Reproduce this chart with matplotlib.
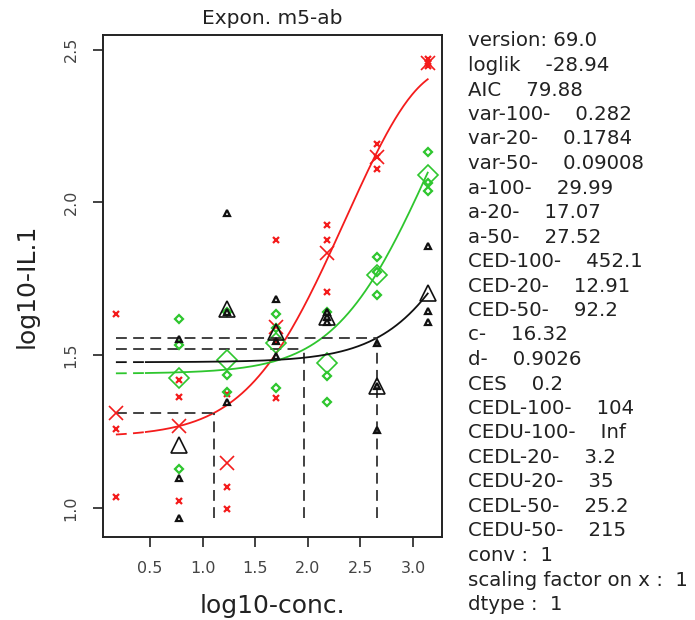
import numpy as np
import matplotlib
matplotlib.use('Agg')
import matplotlib.pyplot as plt

plt.rcParams['font.family'] = ['DejaVu Sans']

# dose groups (log10 conc.)
x_groups = [0.176, 0.778, 1.23, 1.70, 2.18, 2.66, 3.14]

# individual observations per group (log10 IL.1)
red_y = [[1.636, 1.259, 1.036], [1.42, 1.363, 1.024], [1.372, 1.070, 0.996],
         [1.876, 1.545, 1.360], [1.925, 1.877, 1.706], [2.19, 2.15, 2.108],
         [2.47, 2.455, 2.445]]
green_y = [None, [1.619, 1.532, 1.128], [1.64, 1.436, 1.381],
           [1.636, 1.59, 1.392], [1.64, 1.431, 1.348], [1.821, 1.773, 1.698],
           [2.165, 2.065, 2.037]]
black_y = [None, [1.553, 1.097, 0.966], [1.967, 1.64, 1.348],
           [1.684, 1.545, 1.496], [1.64, 1.625, 1.61], [1.54, 1.40, 1.256],
           [1.857, 1.644, 1.608]]

# fitted model parameters (Expon. m5)
a_vals = {'20': 17.07, '50': 27.52, '100': 29.99}
ced_vals = {'20': 12.91, '50': 92.2, '100': 452.1}
c_par = 16.32
d_par = 0.9026
ces = 0.2

info_lines = ['version: 69.0', 'loglik    -28.94', 'AIC    79.88',
              'var-100-    0.282', 'var-20-    0.1784', 'var-50-    0.09008',
              'a-100-    29.99', 'a-20-    17.07', 'a-50-    27.52',
              'CED-100-    452.1', 'CED-20-    12.91', 'CED-50-    92.2',
              'c-    16.32', 'd-    0.9026', 'CES    0.2',
              'CEDL-100-    104', 'CEDU-100-    Inf', 'CEDL-20-    3.2',
              'CEDU-20-    35', 'CEDL-50-    25.2', 'CEDU-50-    215',
              'conv :  1', 'scaling factor on x :  1', 'dtype :  1']

series = [('20', red_y, '#f41c1c', 'x'),
          ('50', green_y, '#2ec62e', 'D'),
          ('100', black_y, '#111111', '^')]


def model(xlog, a, ced):
    # exponential m5 on log scale, CED defined by CES
    p = 1.0 / d_par
    z_ced = -np.log((c_par - 1 - ces) / (c_par - 1))
    z = z_ced * (10 ** xlog / ced) ** p
    return np.log10(a) + np.log10(c_par - (c_par - 1) * np.exp(-z))


fig = plt.figure(figsize=(6.95, 6.2), dpi=100)
ax = fig.add_axes([0.148, 0.134, 0.488, 0.81])

ymin_data = min(v for s in (red_y, green_y, black_y) for g in s if g for v in g)
xmin = x_groups[0]
xmax = x_groups[-1]
dash = (0, (6, 3.5))

for key, ys, col, mk in series:
    a = a_vals[key]
    ced = ced_vals[key]
    # curve: dashed near zero, solid over the dose range
    xd = np.linspace(xmin, 0.46, 40)
    xs = np.linspace(0.46, xmax, 200)
    ax.plot(xd, model(xd, a, ced), color=col, lw=1.3, ls=dash)
    ax.plot(xs, model(xs, a, ced), color=col, lw=1.3)
    # CED lines
    yc = np.log10(a * (1 + ces))
    xc = np.log10(ced)
    ax.plot([xmin, xc], [yc, yc], color='#333333', lw=1.3, ls=dash)
    ax.plot([xc, xc], [ymin_data, yc], color='#333333', lw=1.3, ls=dash)

    for xg, g in zip(x_groups, ys):
        if g is None:
            continue
        ms_small = {'x': 4.2, 'D': 3.6, '^': 4.6}[mk]
        ax.plot([xg] * len(g), g, ls='none', marker=mk, ms=ms_small,
                mfc='none', mec=col, mew=1.6)
        ms_big = {'x': 9.5, 'D': 10, '^': 12}[mk]
        ax.plot([xg], [np.mean(g)], ls='none', marker=mk, ms=ms_big,
                mfc='none', mec=col, mew=1.2)

ax.set_xlim(0.052, 3.276)
ax.set_ylim(0.905, 2.549)
ax.set_xticks([0.5, 1.0, 1.5, 2.0, 2.5, 3.0])
ax.set_yticks([1.0, 1.5, 2.0, 2.5])
ax.set_yticklabels(['1.0', '1.5', '2.0', '2.5'], rotation=90, va='center')
ax.tick_params(direction='out', length=7.5, width=1.2, labelsize=11.5,
               labelcolor='#444444', color='#222222', pad=10)
for sp in ax.spines.values():
    sp.set_linewidth(1.4)
    sp.set_color('#222222')

fig.text(272 / 695, 1 - 18 / 620, 'Expon. m5-ab', fontsize=14.5,
         color='#222222', ha='center', va='center')
fig.text(272 / 695, 1 - 606 / 620, 'log10-conc.', fontsize=18,
         color='#222222', ha='center', va='center')
fig.text(27 / 695, 1 - 286 / 620, 'log10-IL.1', fontsize=18, rotation=90,
         color='#222222', ha='center', va='center')

y0 = 1 - 41 / 620
step = 24.5 / 620
for i, line in enumerate(info_lines):
    fig.text(468 / 695, y0 - i * step, line, fontsize=14.2, color='#222222',
             ha='left', va='center')

fig.savefig('out.png', dpi=100)
